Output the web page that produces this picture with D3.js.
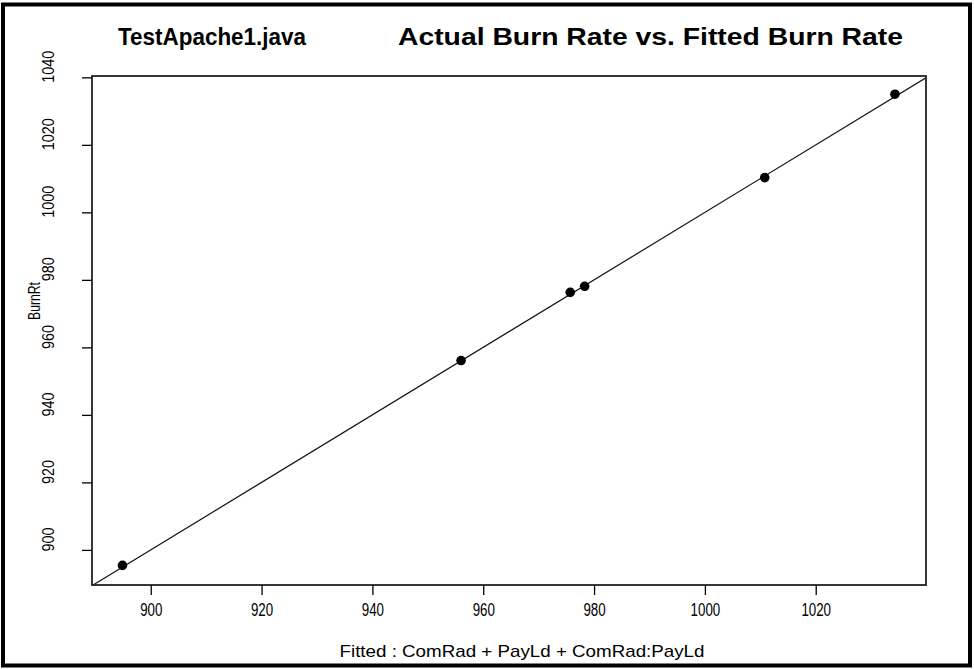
<!DOCTYPE html>
<html>
<head>
<meta charset="utf-8">
<script src="https://cdnjs.cloudflare.com/ajax/libs/d3/7.8.5/d3.min.js"></script>
<style>
	body { margin: 0; background: #fff; }
	text { font-family: "Liberation Sans", Arial, sans-serif; fill: #000; }
</style>
</head>
<body>
<div id="chart"></div>
<script>
// fitted vs actual burn rate
var fitted = [894.9, 956.0, 975.7, 978.3, 1010.8, 1034.3];
var actual = [895.4, 956.1, 976.3, 978.1, 1010.3, 1035.0];

var xTicks = [900, 920, 940, 960, 980, 1000, 1020];
var yTicks = [900, 920, 940, 960, 980, 1000, 1020, 1040];

var xDomain = [889.4, 1039.9];
var yDomain = [889.6, 1040.4];

var width = 974, height = 669;
var plotL = 92, plotR = 926, plotT = 76, plotB = 585;

var svg = d3.select("#chart").append("svg")
	.attr("width", width)
	.attr("height", height)
	.attr("xmlns", "http://www.w3.org/2000/svg");

// outer frame
svg.append("rect")
	.attr("x", 3)
	.attr("y", 4.5)
	.attr("width", 967)
	.attr("height", 661)
	.style("fill", "none")
	.style("stroke", "#000")
	.style("stroke-width", 4);

var x = d3.scaleLinear().domain(xDomain).range([plotL, plotR]);
var y = d3.scaleLinear().domain(yDomain).range([plotB, plotT]);

// titles
svg.append("text")
	.attr("x", 118)
	.attr("y", 45)
	.attr("textLength", 188)
	.attr("lengthAdjust", "spacingAndGlyphs")
	.style("font-size", "23px")
	.style("font-weight", "bold")
	.text("TestApache1.java");

svg.append("text")
	.attr("x", 398)
	.attr("y", 45)
	.attr("textLength", 505)
	.attr("lengthAdjust", "spacingAndGlyphs")
	.style("font-size", "23px")
	.style("font-weight", "bold")
	.text("Actual Burn Rate vs. Fitted Burn Rate");

// clip for the y = x line
svg.append("clipPath")
	.attr("id", "plotClip")
	.append("rect")
	.attr("x", plotL)
	.attr("y", plotT)
	.attr("width", plotR - plotL)
	.attr("height", plotB - plotT);

var lo = Math.min(xDomain[0], yDomain[0]);
var hi = Math.max(xDomain[1], yDomain[1]);

svg.append("line")
	.attr("clip-path", "url(#plotClip)")
	.attr("x1", x(lo))
	.attr("y1", y(lo))
	.attr("x2", x(hi))
	.attr("y2", y(hi))
	.style("stroke", "#111")
	.style("stroke-width", 1.2);

// points
svg.append("g").selectAll("circle")
	.data(fitted)
	.enter()
	.append("circle")
	.attr("cx", function(d){ return x(d); })
	.attr("cy", function(d, i){ return y(actual[i]); })
	.attr("r", 4.8)
	.style("fill", "#000");

// plot box
svg.append("rect")
	.attr("x", plotL)
	.attr("y", plotT)
	.attr("width", plotR - plotL)
	.attr("height", plotB - plotT)
	.style("fill", "none")
	.style("stroke", "#222")
	.style("stroke-width", 1.8);

// x axis
var xAxis = svg.append("g")
	.attr("transform", "translate(0," + plotB + ")")
	.call(d3.axisBottom(x).tickValues(xTicks).tickSize(10).tickPadding(8).tickFormat(d3.format("d")));

xAxis.select(".domain").remove();
xAxis.selectAll("line").style("stroke", "#000").style("stroke-width", 1.3);
xAxis.selectAll("text")
	.style("font-size", "18px")
	.style("font-family", "'Liberation Sans', Arial, sans-serif")
	.attr("textLength", function(d){ return String(d).length * 7.4; })
	.attr("lengthAdjust", "spacingAndGlyphs");

// y axis, labels turned like in R
var yAxis = svg.append("g")
	.attr("transform", "translate(" + plotL + ",0)")
	.call(d3.axisLeft(y).tickValues(yTicks).tickSize(10).tickFormat(d3.format("d")));

yAxis.select(".domain").remove();
yAxis.selectAll("line").style("stroke", "#000").style("stroke-width", 1.3);
yAxis.selectAll("text")
	.attr("x", null)
	.attr("dy", null)
	.attr("transform", "translate(-38,-11) rotate(-90)")
	.style("text-anchor", "middle")
	.style("font-size", "16px")
	.style("font-family", "'Liberation Sans', Arial, sans-serif")
	.attr("textLength", function(d){ return String(d).length * 8; })
	.attr("lengthAdjust", "spacingAndGlyphs");

// axis titles
svg.append("text")
	.attr("x", 522)
	.attr("y", 657)
	.attr("text-anchor", "middle")
	.attr("textLength", 365)
	.attr("lengthAdjust", "spacingAndGlyphs")
	.style("font-size", "17px")
	.text("Fitted : ComRad + PayLd + ComRad:PayLd");

svg.append("text")
	.attr("transform", "translate(40,301) rotate(-90)")
	.attr("text-anchor", "middle")
	.attr("textLength", 38)
	.attr("lengthAdjust", "spacingAndGlyphs")
	.style("font-size", "16px")
	.text("BurnRt");
</script>
</body>
</html>
